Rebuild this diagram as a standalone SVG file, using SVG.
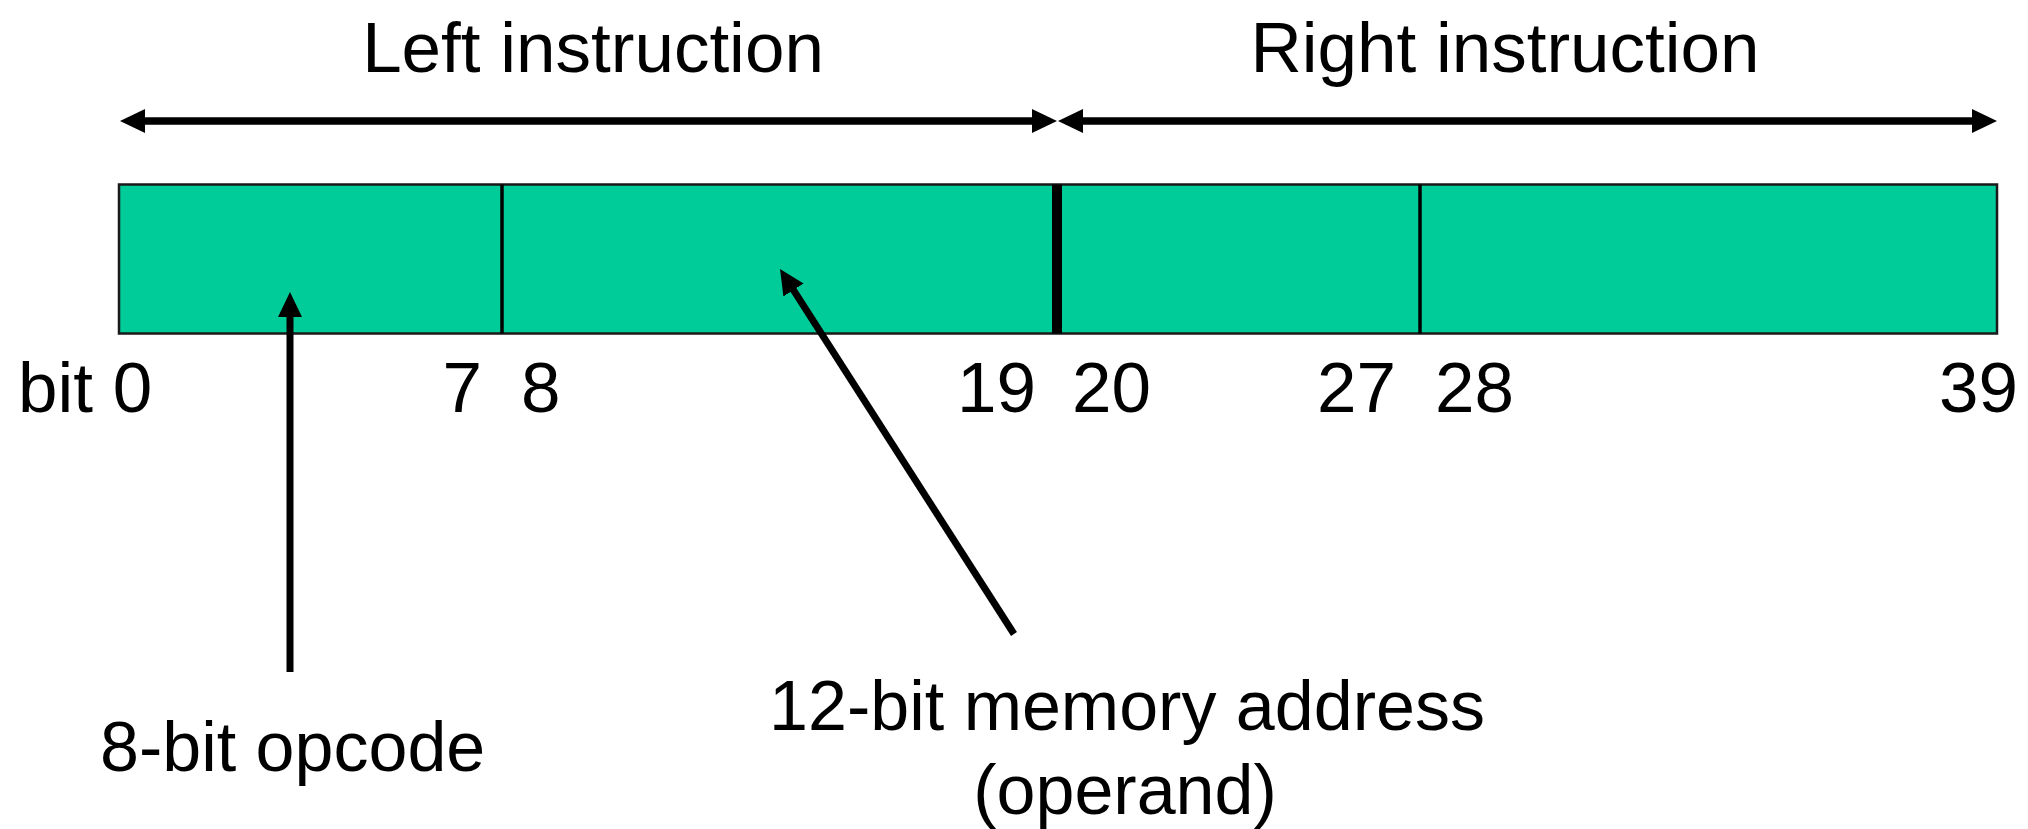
<svg xmlns="http://www.w3.org/2000/svg" width="2028" height="829" viewBox="0 0 2028 829">
  <style>
    .lbl { font-family: "Liberation Sans", Arial, sans-serif; font-size: 71px; fill: #000; }
    .note { font-family: "Liberation Sans", Arial, sans-serif; font-size: 70px; fill: #000; }
    .field { fill: #00CC99; stroke: #1a1a1a; stroke-width: 2.5; }
    .div { stroke: #000; stroke-width: 3.5; }
    .div-main { stroke: #000; stroke-width: 10; }
    .span { stroke: #000; stroke-width: 7.5; fill: none; marker-start: url(#head); marker-end: url(#head); }
    .pointer { stroke: #000; stroke-width: 7; fill: none; marker-end: url(#head); }
  </style>
  <defs>
    <marker id="head" markerUnits="userSpaceOnUse" markerWidth="26" markerHeight="26" refX="5" refY="12" orient="auto-start-reverse" viewBox="0 0 26 24">
      <path d="M0,0 L25,12 L0,24 Z" fill="#000"/>
    </marker>
  </defs>

  <rect width="2028" height="829" fill="#fff"/>

  <!-- word layout: 40-bit word split into two 20-bit instructions -->
  <g id="word">
    <rect class="field" x="119" y="184.5" width="1878" height="149"/>
    <line class="div" x1="502" y1="184.5" x2="502" y2="333.5"/>
    <line class="div-main" x1="1057" y1="184.5" x2="1057" y2="333.5"/>
    <line class="div" x1="1420" y1="184.5" x2="1420" y2="333.5"/>
  </g>

  <g id="left-instruction">
    <text class="lbl" x="593" y="72" text-anchor="middle">Left instruction</text>
  </g>
  <g id="right-instruction">
    <text class="lbl" x="1505" y="72" text-anchor="middle">Right instruction</text>
  </g>

  <!-- bit positions under the word -->
  <g id="bit-numbers">
    <text class="lbl" x="18" y="412">bit 0</text>
    <text class="lbl" x="482" y="412" text-anchor="end">7</text>
    <text class="lbl" x="521" y="412">8</text>
    <text class="lbl" x="1036" y="412" text-anchor="end">19</text>
    <text class="lbl" x="1072" y="412">20</text>
    <text class="lbl" x="1396" y="412" text-anchor="end">27</text>
    <text class="lbl" x="1435" y="412">28</text>
    <text class="lbl" x="2018" y="412" text-anchor="end">39</text>
  </g>

  <g id="opcode-label">
    <text class="note" x="100" y="771">8-bit opcode</text>
  </g>
  <g id="address-label">
    <text class="note" x="1127" y="730" text-anchor="middle">12-bit memory address</text>
    <text class="note" x="1125" y="814" text-anchor="middle">(operand)</text>
  </g>

  <g id="connectors">
    <line class="span" x1="140" y1="121" x2="1037" y2="121"/>
    <line class="span" x1="1078" y1="121" x2="1977" y2="121"/>
    <line class="pointer" x1="290" y1="672" x2="290" y2="312"/>
    <line class="pointer" x1="1014" y1="634" x2="790.8" y2="285.8"/>
  </g>
</svg>
